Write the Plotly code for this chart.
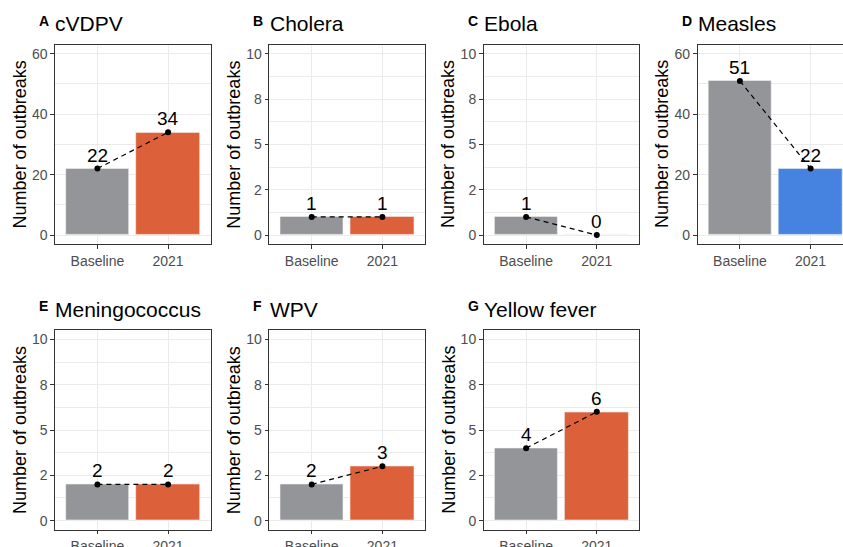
import plotly.graph_objects as go

# Outbreak counts per disease: baseline period vs 2021
tags = ["A", "B", "C", "D", "E", "F", "G"]
diseases = ["cVDPV", "Cholera", "Ebola", "Measles", "Meningococcus", "WPV", "Yellow fever"]
periods = ["Baseline", "2021"]
baseline = [22, 1, 1, 51, 2, 2, 4]
year_2021 = [34, 1, 0, 22, 2, 3, 6]
y_max = [60, 10, 10, 60, 10, 10, 10]
colors_2021 = ["#DC6039", "#DC6039", "#DC6039", "#4682DF", "#DC6039", "#DC6039", "#DC6039"]
gray = "#939598"

# y tick labels (rounded labels on the 0-10 scale)
ticks_60 = [0, 20, 40, 60]
ticklabels_60 = ["0", "20", "40", "60"]
ticks_10 = [0, 2.5, 5, 7.5, 10]
ticklabels_10 = ["0", "2", "5", "8", "10"]

W, H = 843, 547
FONT = "Liberation Sans, Arial, sans-serif"
col_left = [55.0, 269.3, 483.7, 697.5]
row_top = [44.7, 330.3]
panel_w = 155.5
panel_h = 199.4
px_per_cat = panel_w / 2.2

fig = go.Figure()
annotations = []
grid = "#EBEBEB"
border = "#333333"

for i, name in enumerate(diseases):
    r, c = divmod(i, 4)
    n = i + 1
    left = col_left[c]
    right = min(left + panel_w, W)
    top = row_top[r]
    bottom = top + panel_h
    xa = "x" if n == 1 else f"x{n}"
    ya = "y" if n == 1 else f"y{n}"
    vals = [baseline[i], year_2021[i]]

    fig.add_trace(go.Bar(
        x=periods, y=vals, width=0.9,
        marker=dict(color=[gray, colors_2021[i]], line=dict(color="#F2F2F2", width=0.6)),
        xaxis=xa, yaxis=ya, showlegend=False, hoverinfo="skip",
    ))
    fig.add_trace(go.Scatter(
        x=periods, y=vals, mode="lines+markers",
        line=dict(color="black", width=1.2, dash="5px,4px"),
        marker=dict(color="black", size=6),
        cliponaxis=False, xaxis=xa, yaxis=ya, showlegend=False,
    ))
    # value labels just above each point (x given as category index)
    for j, v in enumerate(vals):
        annotations.append(dict(
            text=str(v), x=j, y=v, xref=xa, yref=ya,
            xanchor="center", yanchor="bottom", yshift=1,
            showarrow=False, font=dict(family=FONT, size=19, color="black"),
        ))

    ymax = y_max[i]
    if ymax == 60:
        tv, tt, minor_vals = ticks_60, ticklabels_60, [10, 30, 50]
    else:
        tv, tt, minor_vals = ticks_10, ticklabels_10, [1.25, 3.75, 6.25, 8.75]

    x_span = (right - left) / px_per_cat
    xaxis = dict(
        domain=[left / W, right / W], anchor=ya, type="category",
        categoryorder="array", categoryarray=periods,
        range=[-0.6, -0.6 + x_span], automargin=False,
        showgrid=True, gridcolor=grid, gridwidth=1.1,
        showline=True, linecolor=border, linewidth=1, mirror=True,
        ticks="outside", ticklen=3.7, tickwidth=1, tickcolor=border,
        tickfont=dict(family=FONT, size=14, color="#4D4D4D"),
        zeroline=False, fixedrange=True,
    )
    yaxis = dict(
        domain=[(H - bottom) / H, (H - top) / H], anchor=xa,
        range=[-0.05 * ymax, 1.05 * ymax], automargin=False,
        tickmode="array", tickvals=tv, ticktext=tt,
        showgrid=True, gridcolor=grid, gridwidth=1.1,
        minor=dict(tickmode="array", tickvals=minor_vals, showgrid=True,
                   gridcolor=grid, gridwidth=0.55, ticks=""),
        showline=True, linecolor=border, linewidth=1, mirror=(right - left) >= panel_w - 0.5,
        ticks="outside", ticklen=3.7, tickwidth=1, tickcolor=border,
        tickfont=dict(family=FONT, size=14, color="#4D4D4D"),
        zeroline=False, fixedrange=True,
    )
    fig.update_layout({("xaxis" if n == 1 else f"xaxis{n}"): xaxis,
                       ("yaxis" if n == 1 else f"yaxis{n}"): yaxis})

    # panel tag and title
    title_mid = top - 21
    annotations.append(dict(
        text=f"<b>{tags[i]}</b>", x=(left - 18) / W, y=(H - (top - 24)) / H,
        xref="paper", yref="paper", xanchor="left", yanchor="middle",
        showarrow=False, font=dict(family=FONT, size=14, color="black"),
    ))
    annotations.append(dict(
        text=name, x=left / W - 0.002, y=(H - title_mid) / H,
        xref="paper", yref="paper", xanchor="left", yanchor="middle",
        showarrow=False, font=dict(family=FONT, size=21, color="black"),
    ))
    # y axis title
    annotations.append(dict(
        text="Number of outbreaks", x=(left - 35) / W, y=(H - (top + bottom) / 2) / H,
        xref="paper", yref="paper", xanchor="center", yanchor="middle",
        textangle=-90, showarrow=False, font=dict(family=FONT, size=18, color="black"),
    ))

fig.update_layout(
    width=W, height=H, margin=dict(l=0, r=0, t=0, b=0, autoexpand=False),
    paper_bgcolor="white", plot_bgcolor="white",
    bargap=0, annotations=annotations, showlegend=False,
)

fig.write_html("out.html", config={"displayModeBar": False})
